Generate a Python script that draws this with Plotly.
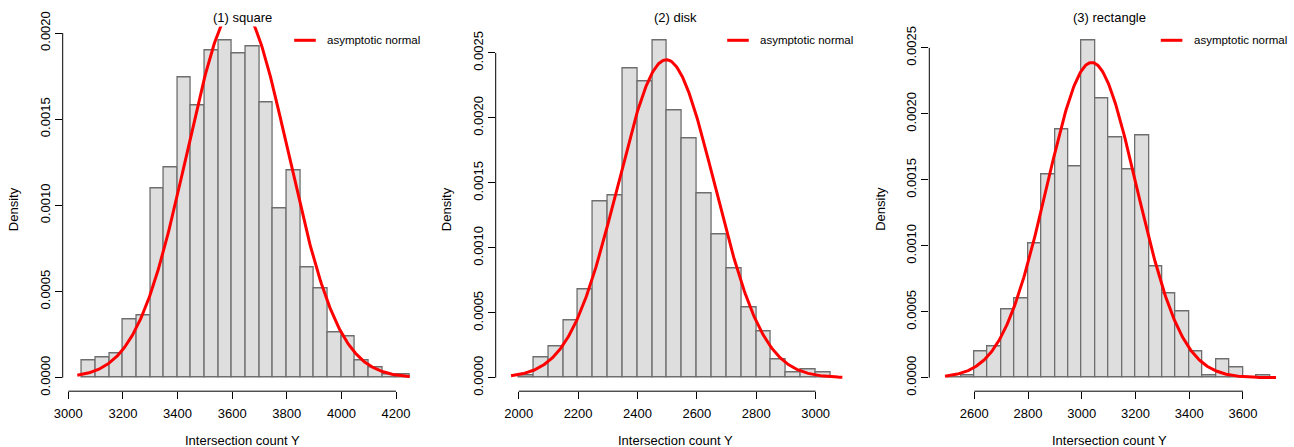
import numpy as np
import plotly.graph_objects as go

# ---------------- data ----------------
bin_width = 50

square_start = 3050
square_density = [0.00010, 0.00012, 0.00014, 0.00034, 0.00036, 0.00110, 0.00122, 0.00174,
                  0.00158, 0.00190, 0.00196, 0.00188, 0.00192, 0.00160, 0.00098, 0.00120,
                  0.00064, 0.00052, 0.00026, 0.00024, 0.00010, 0.00006, 0.00002, 0.00002]
square_mu, square_sd = 3620, 185
square_curve_from, square_curve_to = 3033, 4250

disk_start = 2000
disk_density = [0.00002, 0.00016, 0.00024, 0.00044, 0.00068, 0.00136, 0.00140, 0.00238,
                0.00228, 0.00260, 0.00206, 0.00184, 0.00142, 0.00110, 0.00084, 0.00054,
                0.00036, 0.00014, 0.00004, 0.00006, 0.00004]
disk_mu, disk_sd = 2497, 163
disk_curve_from, disk_curve_to = 1974, 3090

rect_start = 2500
rect_density = [0.00000, 0.00002, 0.00020, 0.00024, 0.00052, 0.00060, 0.00102, 0.00154,
                0.00188, 0.00160, 0.00256, 0.00212, 0.00182, 0.00158, 0.00184, 0.00084,
                0.00064, 0.00050, 0.00020, 0.00002, 0.00014, 0.00008, 0.00000, 0.00002]
rect_mu, rect_sd = 3037, 167
rect_curve_from, rect_curve_to = 2491, 3723

titles = ["(1) square", "(2) disk", "(3) rectangle"]
x_tick_spans = [(3000, 4200), (2000, 3000), (2600, 3600)]
x_ranges = [(2979.5, 4297.7), (1922.5, 3135.0), (2432.5, 3772.5)]
legend_label = "asymptotic normal"
x_title = "Intersection count Y"
y_title = "Density"

panels = [
    (square_start, square_density, square_mu, square_sd, square_curve_from, square_curve_to),
    (disk_start, disk_density, disk_mu, disk_sd, disk_curve_from, disk_curve_to),
    (rect_start, rect_density, rect_mu, rect_sd, rect_curve_from, rect_curve_to),
]

# ---------------- layout geometry ----------------
W, H = 1294, 447
FONT = "Liberation Sans, Arial, Helvetica, sans-serif"
lefts_px = [62.7, 495.7, 929.3]
width_px = 360.0
top_px, bottom_px = 26.4, 391.2
y_dom = [1 - bottom_px / H, 1 - top_px / H]

fig = go.Figure()
shapes = []
annotations = []

for i, (start, dens, mu, sd, cfrom, cto) in enumerate(panels):
    k = "" if i == 0 else str(i + 1)
    xa, ya = "x" + k, "y" + k
    dens = np.array(dens)
    centers = start + bin_width / 2 + bin_width * np.arange(len(dens))

    fig.add_trace(go.Bar(
        x=centers, y=dens, width=bin_width, xaxis=xa, yaxis=ya,
        marker=dict(color="#DEDEDE", line=dict(color="#6E6E6E", width=1.3)),
        showlegend=False, hoverinfo="skip",
    ))

    xs = np.linspace(cfrom, cto, 400)
    ys = np.exp(-0.5 * ((xs - mu) / sd) ** 2) / (sd * np.sqrt(2 * np.pi))
    fig.add_trace(go.Scatter(
        x=xs, y=ys, mode="lines", xaxis=xa, yaxis=ya,
        line=dict(color="#FF0000", width=3), showlegend=False, hoverinfo="skip",
    ))

    ymax = dens.max()
    x0 = lefts_px[i] / W
    x1 = (lefts_px[i] + width_px) / W
    ax_common = dict(showgrid=False, zeroline=False, showline=False, automargin=False,
                     ticks="outside", ticklen=7, tickwidth=1, tickcolor="black",
                     tickfont=dict(family=FONT, size=13, color="black"))
    fig.update_layout(**{
        ("xaxis" + k): dict(domain=[x0, x1], range=list(x_ranges[i]), anchor=ya,
                            tick0=0, dtick=200, ticklabelstandoff=3, **ax_common),
        ("yaxis" + k): dict(domain=y_dom, range=[-0.04 * ymax, 1.04 * ymax], anchor=xa,
                            tick0=0, dtick=0.0005, tickformat=".4f", tickangle=-90,
                            **ax_common),
    })

    # axis lines spanning first to last tick (R style)
    t0, t1 = x_tick_spans[i]
    shapes.append(dict(type="line", xref=xa, yref=ya + " domain", x0=t0, x1=t1, y0=0, y1=0,
                       line=dict(color="black", width=1)))
    ylast = np.floor(1.04 * ymax / 0.0005) * 0.0005
    shapes.append(dict(type="line", xref=xa + " domain", yref=ya, x0=0, x1=0, y0=0, y1=ylast,
                       line=dict(color="black", width=1)))

    # legend (top right, no box)
    leg_y = 1 - 40.3 / H
    shapes.append(dict(type="line", xref=xa + " domain", yref="paper",
                       x0=0.643, x1=0.703, y0=leg_y, y1=leg_y,
                       line=dict(color="#FF0000", width=3)))
    annotations.append(dict(text=legend_label, xref=xa + " domain", yref="paper",
                            x=0.7297, y=leg_y, xanchor="left", yanchor="middle",
                            showarrow=False, font=dict(family=FONT, size=11.5, color="black")))

    # title
    annotations.append(dict(text=titles[i], xref=xa + " domain", yref="paper",
                            x=0.5, y=1 - 17 / H, xanchor="center", yanchor="middle",
                            showarrow=False, font=dict(family=FONT, size=13, color="black")))
    # axis titles
    annotations.append(dict(text=x_title, xref=xa + " domain", yref="paper",
                            x=0.5, y=1 - 440.5 / H, xanchor="center", yanchor="middle",
                            showarrow=False, font=dict(family=FONT, size=13, color="black")))
    annotations.append(dict(text=y_title, xref=xa + " domain", yref="paper",
                            x=0, xshift=-48.5, y=1 - 209 / H, xanchor="center", yanchor="middle",
                            textangle=-90, showarrow=False,
                            font=dict(family=FONT, size=13, color="black")))

fig.update_layout(
    template="none",
    width=W, height=H, margin=dict(l=0, r=0, t=0, b=0, pad=0),
    paper_bgcolor="white", plot_bgcolor="white",
    bargap=0, shapes=shapes, annotations=annotations,
    font=dict(family=FONT, size=13, color="black"),
)

fig.write_html("out.html")
